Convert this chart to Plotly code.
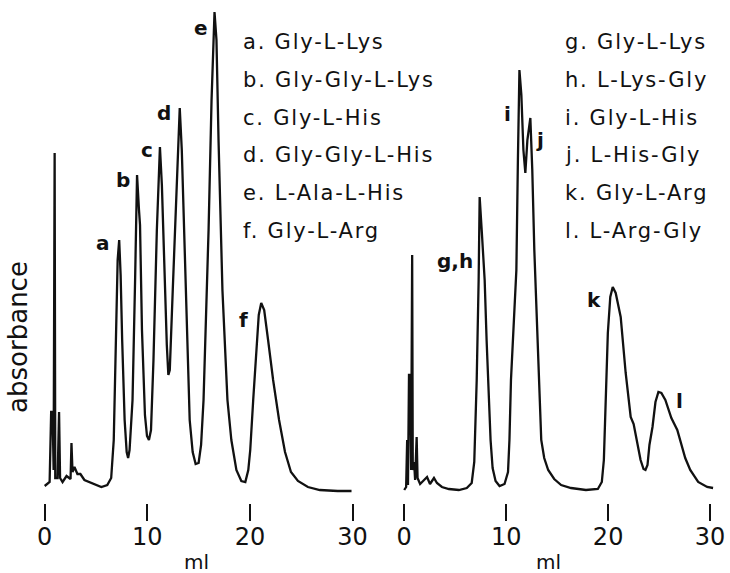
import plotly.graph_objects as go

# Elution profile, column run 1 (elution volume in ml, absorbance in arbitrary units)
left_ml = [0.00, 0.48, 0.63, 0.77, 0.87, 0.97, 1.03, 1.26, 1.40, 1.50, 1.74, 2.13, 2.52, 2.61,
           2.71, 2.90, 3.19, 3.48, 3.87, 4.65, 5.52, 6.10, 6.48, 6.73, 6.92, 7.11, 7.26, 7.40,
           7.55, 7.79, 7.99, 8.13, 8.27, 8.56, 8.81, 9.00, 9.19, 9.29, 9.48, 9.77, 9.97, 10.16,
           10.36, 10.60, 10.93, 11.23, 11.42, 11.66, 11.90, 12.05, 12.19, 12.48, 12.82, 13.16,
           13.36, 13.65, 14.13, 14.42, 14.71, 15.00, 15.24, 15.48, 15.97, 16.26, 16.55, 16.74,
           16.94, 17.32, 17.81, 18.19, 18.68, 19.16, 19.55, 19.84, 20.03, 20.32, 20.61, 20.86,
           21.10, 21.39, 21.77, 22.26, 22.84, 23.42, 24.00, 24.68, 25.65, 26.81, 28.55, 29.90]
left_abs = [0.04, 0.08, 0.78, 0.78, 0.20, 3.37, 0.12, 0.12, 0.78, 0.12, 0.08, 0.14, 0.11, 0.47,
            0.18, 0.23, 0.16, 0.16, 0.10, 0.07, 0.03, 0.05, 0.12, 0.50, 1.50, 2.30, 2.50, 2.15,
            1.50, 0.70, 0.38, 0.32, 0.40, 0.90, 2.10, 3.15, 2.80, 2.65, 1.60, 0.75, 0.54, 0.50,
            0.60, 1.30, 2.60, 3.43, 3.05, 2.20, 1.45, 1.15, 1.20, 2.00, 3.00, 3.82,
            3.40, 2.30, 0.70, 0.38, 0.26, 0.27, 0.45, 0.90, 2.60, 3.90, 4.78, 4.50,
            3.50, 2.00, 0.90, 0.50, 0.20, 0.09, 0.08, 0.20, 0.40, 0.90, 1.40, 1.75,
            1.87, 1.80, 1.50, 1.10, 0.70, 0.38, 0.18, 0.09, 0.03, 0.00, -0.01, -0.01]

# Elution profile, column run 2
right_ml = [0.00, 0.19, 0.29, 0.37, 0.47, 0.58, 0.68, 0.78, 0.84, 0.97, 1.07, 1.22, 1.31, 1.56,
            1.95, 2.24, 2.53, 2.92, 3.21, 3.70, 4.38, 5.36, 6.14, 6.62, 6.87, 7.11, 7.30, 7.40,
            7.60, 7.89, 8.08, 8.28, 8.47, 8.67, 8.96, 9.35, 9.84, 10.18, 10.32, 10.47, 10.71,
            11.00, 11.15, 11.30, 11.49, 11.69, 11.88, 12.08, 12.37, 12.56, 12.76, 13.05, 13.25,
            13.44, 13.73, 14.12, 14.71, 15.39, 16.36, 17.82, 18.99, 19.38, 19.58, 19.72, 19.97,
            20.21, 20.45, 20.74, 21.23, 21.72, 22.21, 22.50, 22.89, 23.18, 23.47, 23.66, 23.86,
            24.05, 24.35, 24.64, 24.93, 25.22, 25.61, 26.20, 26.78, 27.17, 27.56, 28.05, 28.83,
            29.71, 30.29]
right_abs = [0.00, 0.03, 0.50, 0.05, 1.15, 1.15, 0.20, 2.35, 0.20, 0.28, 0.10, 0.53, 0.12, 0.06,
             0.10, 0.13, 0.06, 0.12, 0.07, 0.03, 0.01, 0.00, 0.02, 0.07, 0.28, 1.10, 2.10, 2.93,
             2.60, 2.10, 1.50, 1.00, 0.50, 0.22, 0.09, 0.04, 0.06, 0.18, 0.50, 1.10, 1.60,
             2.20, 3.30, 4.20, 3.95, 3.40, 3.17, 3.50, 3.72, 3.20, 2.40, 1.60, 0.90,
             0.50, 0.32, 0.20, 0.11, 0.05, 0.02, 0.00, 0.01, 0.08, 0.30, 0.70, 1.57,
             1.93, 2.03, 1.97, 1.73, 1.17, 0.73, 0.66, 0.45, 0.30, 0.21, 0.20, 0.25,
             0.45, 0.63, 0.88, 0.98, 0.97, 0.90, 0.72, 0.60, 0.45, 0.32, 0.20, 0.08,
             0.03, 0.02]

tick_vals = [0, 10, 20, 30]
tick_text = ["0", "10", "20", "30"]

left_key = ["a. Gly-L-Lys", "b. Gly-Gly-L-Lys", "c. Gly-L-His",
            "d. Gly-Gly-L-His", "e. L-Ala-L-His", "f. Gly-L-Arg"]
right_key = ["g. Gly-L-Lys", "h. L-Lys-Gly", "i. Gly-L-His",
             "j. L-His-Gly", "k. Gly-L-Arg", "l. L-Arg-Gly"]

left_peaks = ["a", "b", "c", "d", "e", "f"]
right_peaks = ["g,h", "i", "j", "k", "l"]

# ---- drawing ----
W, H = 730, 573
PLOT_BOTTOM = 503
INK = "#111111"
FONT = "DejaVu Sans"


def px(xp):
    return xp / W


def py(yp):
    return (PLOT_BOTTOM - yp) / PLOT_BOTTOM


fig = go.Figure()
line = dict(color=INK, width=2.3)
fig.add_trace(go.Scatter(x=left_ml, y=left_abs, mode="lines", line=line,
                         xaxis="x", yaxis="y", hoverinfo="skip"))
fig.add_trace(go.Scatter(x=right_ml, y=right_abs, mode="lines", line=line,
                         xaxis="x2", yaxis="y", hoverinfo="skip"))

axis_common = dict(
    tickmode="array", tickvals=tick_vals, ticktext=tick_text,
    ticks="outside", ticklen=17, tickwidth=2, tickcolor=INK,
    ticklabelstandoff=-5,
    showline=False, showgrid=False, zeroline=False,
    tickfont=dict(family=FONT, size=24, color=INK),
    fixedrange=True,
)
fig.update_layout(
    width=W, height=H,
    margin=dict(l=0, r=0, t=0, b=H - PLOT_BOTTOM),
    paper_bgcolor="white", plot_bgcolor="white",
    showlegend=False,
    xaxis=dict(domain=[0, 0.5], range=[-4.355, 30.97], anchor="y", **axis_common),
    xaxis2=dict(domain=[0.5, 1], range=[-4.09, 31.46], anchor="y", **axis_common),
    yaxis=dict(range=[-0.13, 4.90], visible=False, fixedrange=True),
)

ann = []


def spaced(t, s):
    return f'<span style="letter-spacing:{s}px">{t}</span>'


# key text, two columns
row_y = [42, 79.8, 117.6, 155.4, 193.2, 231]
for txt, yy in zip(left_key, row_y):
    ann.append(dict(text=spaced(txt, 1.8), x=px(243), y=py(yy), xref="paper", yref="paper",
                    xanchor="left", yanchor="middle", showarrow=False,
                    font=dict(family=FONT, size=21, color=INK)))
for txt, yy in zip(right_key, row_y):
    ann.append(dict(text=spaced(txt, 1.8), x=px(567), y=py(yy), xref="paper", yref="paper",
                    xanchor="left", yanchor="middle", showarrow=False,
                    font=dict(family=FONT, size=21, color=INK)))

# peak letters placed beside their peaks (ml, absorbance)
left_pos = [(5.71, 2.47), (7.65, 3.10), (9.97, 3.40), (11.61, 3.77), (15.19, 4.62), (19.36, 1.70)]
right_pos = [(4.97, 2.29), (10.13, 3.76), (13.34, 3.50), (18.60, 1.90), (26.98, 0.89)]
for lab, (xx, yy) in zip(left_peaks, left_pos):
    ann.append(dict(text=f"<b>{lab}</b>", x=xx, y=yy, xref="x", yref="y", showarrow=False,
                    xanchor="center", yanchor="middle",
                    font=dict(family=FONT, size=20, color=INK)))
for lab, (xx, yy) in zip(right_peaks, right_pos):
    ann.append(dict(text=f"<b>{lab}</b>", x=xx, y=yy, xref="x2", yref="y", showarrow=False,
                    xanchor="center", yanchor="middle",
                    font=dict(family=FONT, size=20, color=INK)))

# axis titles
ann.append(dict(text="absorbance", x=px(18), y=py(337), xref="paper", yref="paper",
                textangle=-90, showarrow=False, xanchor="center", yanchor="middle",
                font=dict(family=FONT, size=26, color=INK)))
for xc in (198, 552):
    ann.append(dict(text="ml", x=px(xc), y=py(562), xref="paper", yref="paper",
                    showarrow=False, xanchor="center", yanchor="middle",
                    font=dict(family=FONT, size=20, color=INK)))

fig.update_layout(annotations=ann)
fig.write_html("out.html")
